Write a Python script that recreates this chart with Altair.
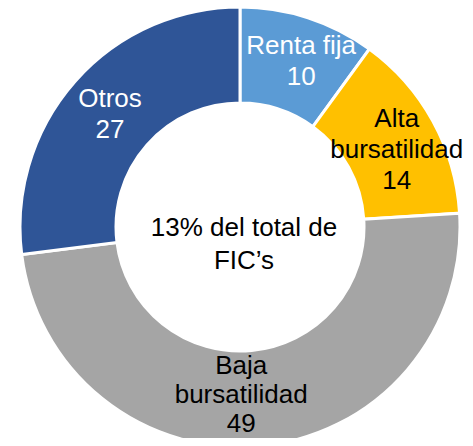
import altair as alt
import pandas as pd

categories = ["Renta fija", "Alta bursatilidad", "Baja bursatilidad", "Otros"]
values = [10, 14, 49, 27]
label_names = ["Renta fija", "Alta\nbursatilidad", "Baja\nbursatilidad", "Otros"]
colors = ["#5B9BD5", "#FFC000", "#A5A5A5", "#2F5597"]
label_colors = ["white", "black", "black", "white"]
center_text = ["13% del total de", "FIC\u2019s"]

# label nudges (dx, dy, line height) relative to the ring's mid-radius centroid
nudges = [(8, -17, 31), (6, -25, 31), (-15, -32, 29), (-1, -14, 31)]

W, H = 450, 422
FONT = "Liberation Sans"

df = pd.DataFrame({
    "category": categories,
    "value": values,
    "order": list(range(len(categories))),
    "label": [f"{n}\n{v}" for n, v in zip(label_names, values)],
})

base = alt.Chart(df).encode(
    theta=alt.Theta("value:Q", stack=True),
    order=alt.Order("order:Q"),
)

arcs = base.mark_arc(innerRadius=124, outerRadius=220, stroke="white", strokeWidth=3).encode(
    color=alt.Color("category:N", scale=alt.Scale(domain=categories, range=colors), legend=None)
)

label_layers = []
for cat, col, (ddx, ddy, lh) in zip(categories, label_colors, nudges):
    label_layers.append(
        base.mark_text(
            radius=172, font=FONT, fontSize=26, lineBreak="\n", lineHeight=lh,
            align="center", baseline="middle", dx=ddx, dy=ddy, color=col,
        ).encode(
            text="label:N",
            opacity=alt.condition(
                alt.FieldEqualPredicate(field="category", equal=cat),
                alt.value(1), alt.value(0),
            ),
        )
    )

center = alt.Chart(pd.DataFrame({"t": ["\n".join(center_text)]})).mark_text(
    font=FONT, fontSize=26, lineBreak="\n", lineHeight=33,
    align="center", baseline="middle", dy=1, dx=4, color="black",
).encode(text="t:N", x=alt.value(W / 2), y=alt.value(H / 2))

chart = alt.layer(arcs, *label_layers, center).properties(
    width=W, height=H,
    padding={"left": 7, "top": 8, "right": 0, "bottom": 0},
    autosize=alt.AutoSizeParams(type="none"),
    background="white",
).configure_view(stroke=None)

chart.save("out.html", embed_options={"renderer": "svg", "actions": False})
